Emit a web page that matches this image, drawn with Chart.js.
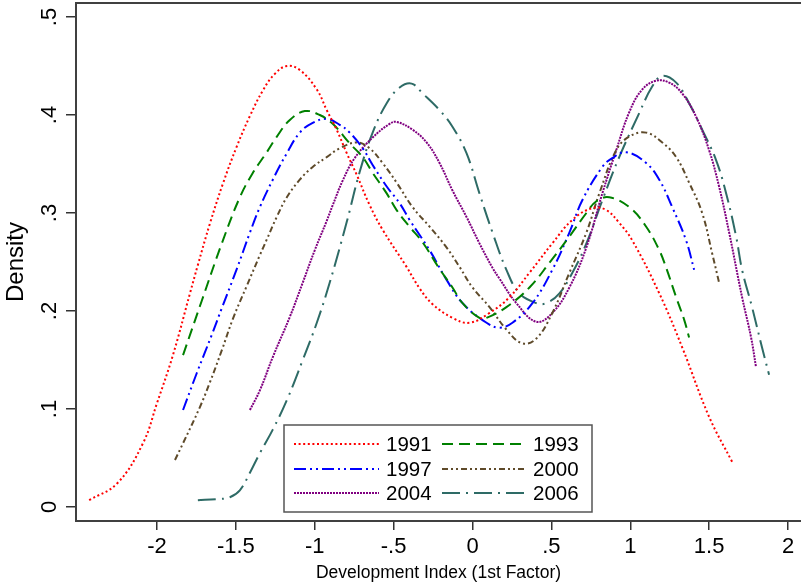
<!DOCTYPE html>
<html><head><meta charset="utf-8">
<script src="https://cdn.jsdelivr.net/npm/chart.js@4.4.0/dist/chart.umd.min.js"></script>
<style>html,body{margin:0;padding:0;background:#fff;overflow:hidden}canvas{display:block}</style>
</head><body>
<canvas id="c" width="801" height="587"></canvas>
<script>
// ---- data ----
const seriesNames = ['1991', '1993', '1997', '2000', '2004', '2006'];

const x1991 = [-2.43,-2.253,-2.089,-2.0,-1.899,-1.791,-1.741,-1.665,-1.582,-1.494,-1.411,-1.329,-1.253,-1.177,-1.095,-0.987,-0.924,-0.861,-0.797,-0.734,-0.652,-0.570,-0.418,-0.335,-0.253,-0.127,-0.019,0.108,0.234,0.361,0.506,0.633,0.759,0.848,0.930,1.013,1.184,1.329,1.5,1.646];
const y1991 = [0.007,0.024,0.065,0.106,0.155,0.218,0.247,0.289,0.330,0.368,0.399,0.425,0.442,0.450,0.446,0.426,0.405,0.385,0.361,0.339,0.308,0.283,0.245,0.223,0.207,0.193,0.188,0.198,0.214,0.239,0.269,0.293,0.305,0.303,0.290,0.272,0.218,0.163,0.092,0.046];

const x1993 = [-1.835,-1.715,-1.589,-1.475,-1.392,-1.304,-1.24,-1.158,-1.063,-0.968,-0.886,-0.778,-0.696,-0.633,-0.544,-0.481,-0.399,-0.316,-0.209,-0.127,-0.063,0.044,0.089,0.215,0.361,0.487,0.614,0.722,0.785,0.867,0.994,1.101,1.184,1.228,1.291,1.342,1.373];
const y1993 = [0.155,0.211,0.269,0.316,0.341,0.362,0.378,0.395,0.404,0.400,0.391,0.371,0.357,0.341,0.320,0.303,0.286,0.270,0.243,0.224,0.208,0.193,0.193,0.204,0.224,0.249,0.276,0.300,0.312,0.316,0.306,0.286,0.262,0.244,0.214,0.191,0.173];

const x1997 = [-1.835,-1.747,-1.652,-1.589,-1.494,-1.411,-1.348,-1.266,-1.177,-1.095,-1.013,-0.924,-0.842,-0.778,-0.696,-0.633,-0.544,-0.462,-0.399,-0.272,-0.165,-0.063,0.089,0.171,0.253,0.380,0.506,0.614,0.696,0.823,0.886,0.975,1.101,1.184,1.266,1.354,1.405];
const y1997 = [0.099,0.137,0.176,0.203,0.243,0.280,0.306,0.334,0.361,0.382,0.392,0.396,0.390,0.382,0.366,0.349,0.327,0.310,0.293,0.262,0.232,0.208,0.188,0.183,0.188,0.208,0.242,0.280,0.313,0.347,0.356,0.362,0.351,0.334,0.306,0.272,0.242];

const x2000 = [-1.886,-1.835,-1.728,-1.665,-1.589,-1.519,-1.430,-1.348,-1.304,-1.241,-1.177,-1.095,-1.013,-0.924,-0.842,-0.734,-0.652,-0.570,-0.481,-0.380,-0.272,-0.165,-0.082,0.0,0.108,0.215,0.316,0.405,0.506,0.614,0.722,0.804,0.911,0.994,1.101,1.203,1.291,1.373,1.456,1.519,1.563];
const y2000 = [0.048,0.065,0.102,0.127,0.160,0.192,0.226,0.257,0.273,0.296,0.316,0.334,0.347,0.357,0.366,0.372,0.366,0.351,0.331,0.306,0.286,0.265,0.245,0.224,0.204,0.181,0.167,0.172,0.198,0.239,0.280,0.320,0.364,0.378,0.382,0.372,0.357,0.331,0.300,0.259,0.229];

const x2004 = [-1.411,-1.348,-1.266,-1.158,-1.076,-1.0,-0.924,-0.886,-0.823,-0.747,-0.633,-0.525,-0.481,-0.380,-0.291,-0.209,-0.127,-0.038,0.044,0.127,0.171,0.278,0.405,0.506,0.614,0.722,0.823,0.911,0.994,1.076,1.165,1.247,1.329,1.418,1.5,1.563,1.627,1.709,1.766,1.797];
const y2004 = [0.099,0.119,0.153,0.194,0.229,0.262,0.292,0.308,0.333,0.356,0.377,0.391,0.393,0.385,0.372,0.351,0.323,0.296,0.269,0.244,0.233,0.208,0.189,0.198,0.224,0.265,0.320,0.364,0.403,0.426,0.435,0.433,0.422,0.398,0.364,0.327,0.280,0.214,0.173,0.143];

const x2006 = [-1.741,-1.620,-1.538,-1.475,-1.411,-1.348,-1.266,-1.177,-1.076,-0.987,-0.905,-0.797,-0.715,-0.633,-0.544,-0.462,-0.386,-0.316,-0.209,-0.127,-0.038,0.044,0.127,0.215,0.297,0.405,0.468,0.551,0.633,0.722,0.823,0.930,1.057,1.139,1.203,1.291,1.373,1.456,1.544,1.608,1.671,1.709,1.772,1.835,1.880];
const y2006 = [0.007,0.008,0.010,0.017,0.035,0.055,0.079,0.109,0.150,0.188,0.229,0.291,0.342,0.382,0.412,0.428,0.432,0.422,0.405,0.388,0.361,0.320,0.280,0.242,0.218,0.208,0.208,0.218,0.239,0.269,0.313,0.357,0.402,0.429,0.440,0.433,0.412,0.385,0.354,0.320,0.276,0.242,0.204,0.163,0.135];

const xTickValues = [-2, -1.5, -1, -0.5, 0, 0.5, 1, 1.5, 2];
const xTickLabels = ['-2', '-1.5', '-1', '-.5', '0', '.5', '1', '1.5', '2'];
const yTickValues = [0, 0.1, 0.2, 0.3, 0.4, 0.5];
const yTickLabels = ['0', '.1', '.2', '.3', '.4', '.5'];

// ---- styles ----
const FONT = '"Liberation Sans", Arial, Helvetica, sans-serif';
const lineStyles = [
  {color: '#ff0000', dash: [2, 2.6]},
  {color: '#008000', dash: [11, 6]},
  {color: '#0000ff', dash: [12, 4, 2, 4, 2, 4]},
  {color: '#5e4a2a', dash: [6, 3, 2, 3, 2, 3]},
  {color: '#800080', dash: [2, 1]},
  {color: '#2e6b66', dash: [18, 6, 2, 6]}
];
const xsAll = [x1991, x1993, x1997, x2000, x2004, x2006];
const ysAll = [y1991, y1993, y1997, y2000, y2004, y2006];

const datasets = seriesNames.map((name, i) => ({
  label: name,
  data: xsAll[i].map((x, j) => ({x: x, y: ysAll[i][j]})),
  borderColor: lineStyles[i].color,
  backgroundColor: lineStyles[i].color,
  borderDash: lineStyles[i].dash,
  borderWidth: 2,
  borderCapStyle: 'butt',
  pointRadius: 0,
  fill: false,
  tension: 0.4
}));

const framePlugin = {
  id: 'frameAndLegend',
  afterDraw(chart) {
    const {ctx, chartArea: a, scales: {y}} = chart;
    ctx.save();
    // top frame line
    ctx.strokeStyle = '#404040';
    ctx.lineWidth = 2;
    ctx.setLineDash([]);
    ctx.beginPath();
    ctx.moveTo(a.left - 1, a.top);
    ctx.lineTo(a.right, a.top);
    ctx.stroke();
    // rotated y tick labels
    ctx.fillStyle = '#000';
    ctx.font = '22px ' + FONT;
    ctx.textAlign = 'center';
    ctx.textBaseline = 'middle';
    yTickValues.forEach((v, i) => {
      const py = y.getPixelForValue(v);
      ctx.save();
      ctx.translate(49.5, py);
      ctx.rotate(-Math.PI / 2);
      ctx.fillText(yTickLabels[i], 0, 0);
      ctx.restore();
    });
    // legend
    const box = {l: 284, t: 425, r: 592, b: 512};
    ctx.fillStyle = '#fff';
    ctx.fillRect(box.l, box.t, box.r - box.l, box.b - box.t);
    ctx.strokeStyle = '#555';
    ctx.lineWidth = 1.5;
    ctx.strokeRect(box.l, box.t, box.r - box.l, box.b - box.t);
    const rows = [444, 469, 493];
    const cols = [{x0: 294, x1: 379, tx: 386}, {x0: 442, x1: 527, tx: 533}];
    ctx.font = '20.5px ' + FONT;
    ctx.textAlign = 'left';
    ctx.textBaseline = 'middle';
    chart.data.datasets.forEach((ds, i) => {
      const r = rows[Math.floor(i / 2)], c = cols[i % 2];
      ctx.strokeStyle = ds.borderColor;
      ctx.lineWidth = 2;
      ctx.lineCap = 'butt';
      ctx.setLineDash(ds.borderDash);
      ctx.beginPath();
      ctx.moveTo(c.x0, r);
      ctx.lineTo(c.x1, r);
      ctx.stroke();
      ctx.setLineDash([]);
      ctx.fillStyle = '#000';
      ctx.fillText(ds.label, c.tx, r + 1);
    });
    ctx.restore();
  }
};

new Chart(document.getElementById('c'), {
  type: 'line',
  data: {datasets: datasets},
  plugins: [framePlugin],
  options: {
    responsive: false,
    animation: false,
    events: [],
    layout: {padding: {top: 3, right: 0, left: 0, bottom: 0}},
    plugins: {legend: {display: false}, tooltip: {enabled: false}},
    scales: {
      x: {
        type: 'linear',
        min: -2.5135,
        max: 2.0824,
        afterBuildTicks: (s) => { s.ticks = xTickValues.map(v => ({value: v})); },
        afterFit: (s) => { s.height = 66; },
        ticks: {
          autoSkip: false, maxRotation: 0, minRotation: 0, padding: 4,
          color: '#000', font: {family: FONT, size: 22},
          callback: (v, i) => xTickLabels[i]
        },
        grid: {display: true, drawOnChartArea: false, drawTicks: true, tickLength: 9, color: '#333', lineWidth: 1.5},
        border: {display: true, color: '#404040', width: 2},
        title: {display: true, text: 'Development Index (1st Factor)', color: '#000',
                font: {family: FONT, size: 17.5}, padding: {top: 0, bottom: 3.5}}
      },
      y: {
        type: 'linear',
        min: -0.014286,
        max: 0.514286,
        afterBuildTicks: (s) => { s.ticks = yTickValues.map(v => ({value: v})); },
        afterFit: (s) => { s.width = 76; },
        ticks: {display: false},
        grid: {display: true, drawOnChartArea: false, drawTicks: true, tickLength: 10, color: '#333', lineWidth: 1.5},
        border: {display: true, color: '#404040', width: 2},
        title: {display: true, text: 'Density', color: '#000',
                font: {family: FONT, size: 24}, padding: {top: 2, bottom: 0}}
      }
    }
  }
});
</script>
</body></html>
